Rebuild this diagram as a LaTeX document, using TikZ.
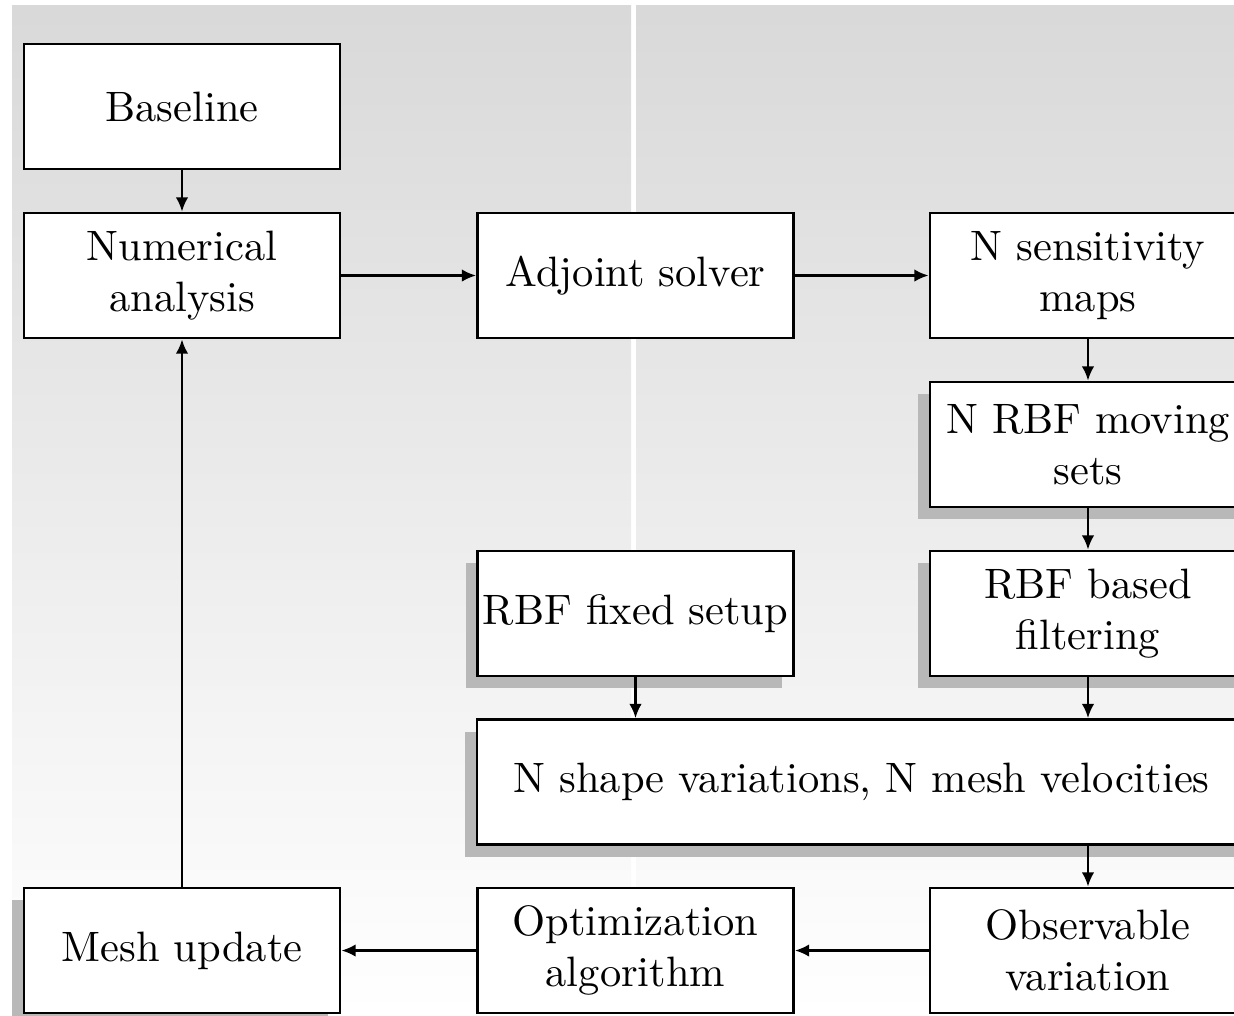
\documentclass[tikz,border=0pt]{standalone}
\usetikzlibrary{shadows,arrows.meta}
\begin{document}
\begin{tikzpicture}[x=0.24pt,y=-0.24pt,
  box/.style={draw, line width=0.7pt, fill=white, minimum width=75.84pt,
    minimum height=30pt, inner sep=1pt, align=center,
    font={\fontsize{10.2pt}{12.3pt}\selectfont}},
  shbox/.style={box, general shadow={fill=black!28, shadow xshift=-2.88pt, shadow yshift=-2.88pt}},
  arr/.style={-{Latex[length=3.4pt,width=3pt]}, line width=0.55pt}]
\useasboundingbox (0,0) rectangle (1234,1015);
\clip (0,0) rectangle (1234,1015);
\shade[top color=black!15, bottom color=white] (12,5) rectangle (631,1015);
\shade[top color=black!15, bottom color=white] (636,5) rectangle (1234,1015);

\node[box] (base) at (182,106.5) {Baseline};
\node[box] (num) at (182,275.5) {Numerical\\analysis};
\node[box] (adj) at (635.5,275.5) {Adjoint solver};
\node[box] (sens) at (1088,275.5) {N sensitivity\\maps};
\node[shbox] (mov) at (1088,444.5) {N RBF moving\\sets};
\node[shbox] (filt) at (1088,613.5) {RBF based\\filtering};
\node[shbox] (fix) at (635.5,613.5) {RBF fixed setup};
\node[shbox, minimum width=184.56pt] (shape) at (861.5,782) {N shape variations, N mesh velocities};
\node[shbox] (mesh) at (182,950.5) {Mesh update};
\node[box] (opt) at (635.5,950.5) {Optimization\\algorithm};
\node[box] (obs) at (1088,950.5) {Observable\\variation};

\draw[arr] (base) -- (num);
\draw[arr] (num) -- (adj);
\draw[arr] (adj) -- (sens);
\draw[arr] (sens) -- (mov);
\draw[arr] (mov) -- (filt);
\draw[arr] (fix) -- (fix |- shape.north);
\draw[arr] (filt) -- (filt |- shape.north);
\draw[arr] (obs |- shape.south) -- (obs);
\draw[arr] (obs) -- (opt);
\draw[arr] (opt) -- (mesh);
\draw[arr] (mesh) -- (num);
\end{tikzpicture}
\end{document}
